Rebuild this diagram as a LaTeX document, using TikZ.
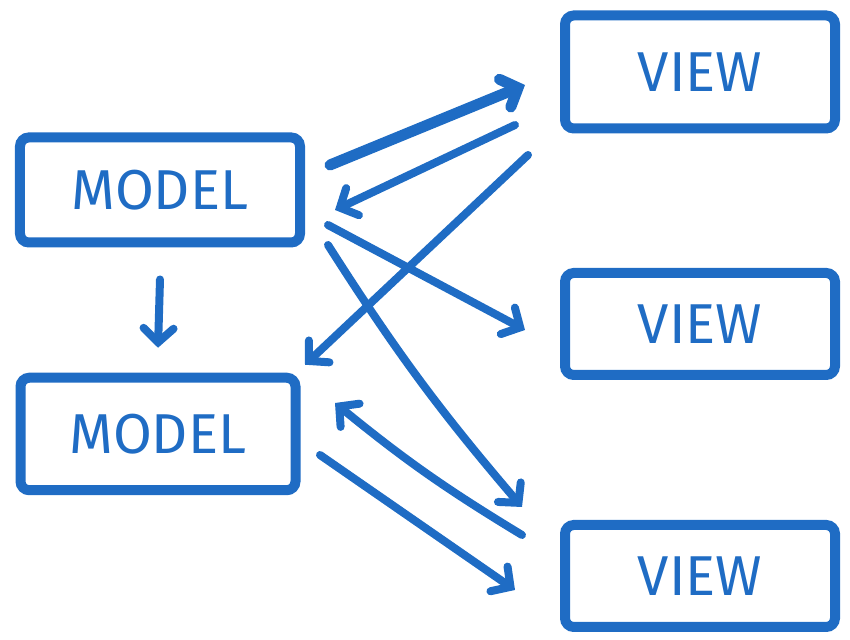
\documentclass[tikz,border=0pt]{standalone}
\usepackage{fontspec}
\setsansfont{Fira Sans}
\usepackage{xcolor}
\usepackage{tikz}
\usetikzlibrary{arrows.meta,positioning}
\definecolor{sketchblue}{HTML}{1F6CC4}

\begin{document}
\begin{tikzpicture}[
    mv_box/.style={rectangle, draw=sketchblue, line width=0.2cm, rounded corners=5pt, text=sketchblue, font=\sffamily\fontsize{32}{38}\selectfont, align=center, minimum width=5.4cm, minimum height=2.04cm},
    arrow/.style={-{Straight Barb[length=0.28cm, width=0.6cm, line cap=round]}, draw=sketchblue, line width=0.16cm, line cap=round},
    thickarrow/.style={arrow, line width=0.22cm}
]
\useasboundingbox (0,0) rectangle (17,12.8);

% Models
\node[mv_box, minimum width=5.6cm, minimum height=2.1cm] (model1) at (3.2,9.0) {MODEL};
\node[mv_box, minimum width=5.5cm, minimum height=2.25cm] (model2) at (3.16,4.12) {MODEL};

% Views
\node[mv_box, minimum height=2.26cm] (view1) at (14.0,11.36) {VIEW};
\node[mv_box] (view2) at (14.0,6.32) {VIEW};
\node[mv_box] (view3) at (14.0,1.28) {VIEW};

% Connections
\draw[thickarrow] ([xshift=0.5cm, yshift=0.5cm]model1.east) -- ([xshift=-0.7cm, yshift=-0.26cm]view1.west);
\draw[arrow] ([xshift=-0.9cm, yshift=-1.06cm]view1.west) -- ([xshift=0.6cm, yshift=-0.4cm]model1.east);
\draw[arrow] ([xshift=-0.64cm, yshift=-1.66cm]view1.west) -- ([xshift=0.09cm, yshift=0.16cm]model2.north east);
\draw[arrow] ([xshift=0.46cm, yshift=-0.7cm]model1.east) -- ([xshift=-0.7cm, yshift=-0.12cm]view2.west);
\draw[arrow] ([xshift=0.46cm, yshift=-1.1cm]model1.east) to[bend right=4] ([xshift=-0.76cm, yshift=0.26cm]view3.north west);
\draw[arrow] ([xshift=-0.76cm, yshift=0.82cm]view3.west) to[bend left=4] ([xshift=0.69cm, yshift=0.62cm]model2.east);
\draw[arrow] ([xshift=0.39cm, yshift=-0.42cm]model2.east) -- ([xshift=-0.9cm, yshift=-0.28cm]view3.west);
\draw[arrow] ([yshift=-0.64cm]model1.south) -- ([yshift=0.5cm]model2.north);

\end{tikzpicture}
\end{document}
